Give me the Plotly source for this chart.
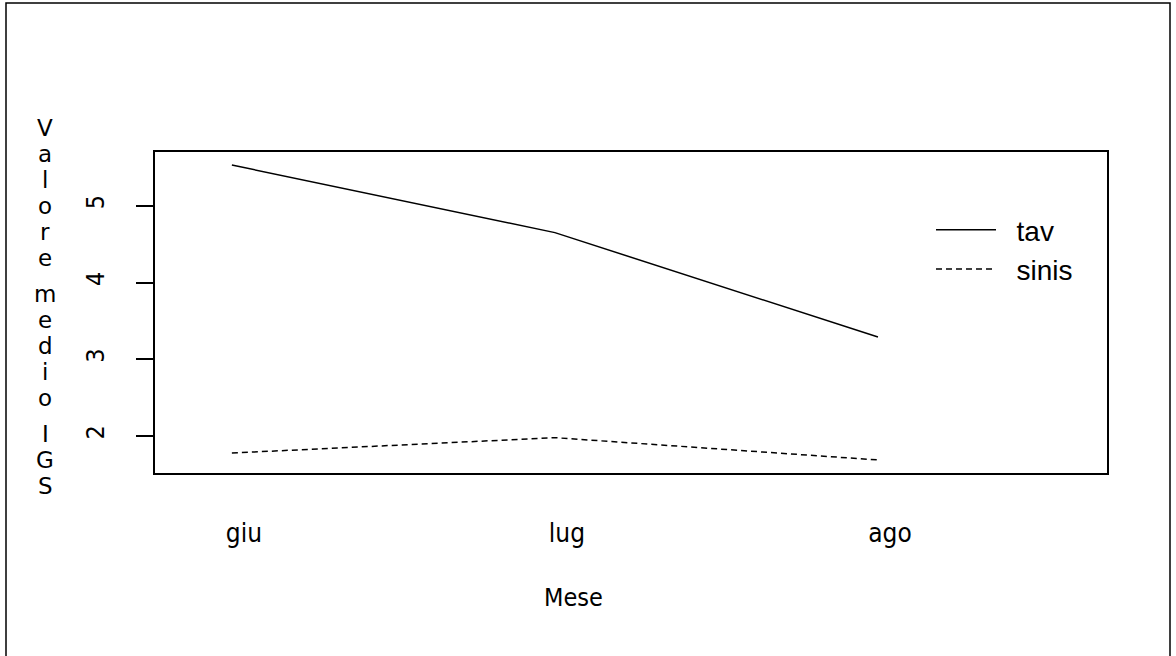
import plotly.graph_objects as go

months = ["giu", "lug", "ago"]
month_pos = [1, 2, 3]
tav = [5.53, 4.65, 3.29]
sinis = [1.78, 1.98, 1.69]
series_names = ["tav", "sinis"]
y_ticks = [2, 3, 4, 5]
y_title = "Valore medio IGS"

W, H = 1176, 656
L, R, T, B = 155, 69, 152, 183
pw, ph = W - L - R, H - T - B

def px_x(p):
    return (p - L) / pw

def px_y(p):
    return (H - B - p) / ph

pad = "\u00a0\u00a0"
fig = go.Figure()
fig.add_trace(go.Scatter(x=month_pos, y=tav, mode="lines", name=pad + series_names[0],
                         line=dict(color="black", width=1.5)))
fig.add_trace(go.Scatter(x=month_pos, y=sinis, mode="lines", name=pad + series_names[1],
                         line=dict(color="black", width=1.5, dash="6px,4px")))

annotations = []
ypos = 128
for ch in y_title:
    if ch == " ":
        ypos += 10
        continue
    annotations.append(dict(text=ch, x=px_x(45), y=px_y(ypos), xref="paper", yref="paper",
                            showarrow=False, xanchor="center", yanchor="middle",
                            font=dict(family="DejaVu Sans", size=23, color="black")))
    ypos += 26

annotations.append(dict(text="Mese", x=px_x(573), y=px_y(597), xref="paper", yref="paper",
                        showarrow=False, xanchor="center", yanchor="middle",
                        font=dict(family="DejaVu Sans Condensed, Liberation Sans Narrow, Liberation Sans", size=25, color="black")))

fig.update_layout(
    width=W, height=H,
    margin=dict(l=L, r=R, t=T, b=B, pad=0),
    paper_bgcolor="white", plot_bgcolor="white",
    showlegend=True,
    legend=dict(x=px_x(931), y=px_y(205), xanchor="left", yanchor="top",
                bgcolor="rgba(0,0,0,0)", borderwidth=0,
                font=dict(family="Liberation Sans, Arial", size=28, color="black"),
                itemwidth=60, tracegroupgap=0),
    annotations=annotations,
    shapes=[dict(type="rect", xref="paper", yref="paper",
                 x0=px_x(6), x1=px_x(1170), y0=px_y(662), y1=px_y(3),
                 line=dict(color="black", width=1.5), fillcolor="rgba(0,0,0,0)", layer="below")],
)

fig.update_xaxes(range=[0.762, 3.709], tickvals=month_pos, ticktext=months,
                 showgrid=False, zeroline=False, showline=True, mirror=True,
                 linecolor="black", linewidth=1.5, ticks="",
                 ticklabelstandoff=36, ticklabelshift=12,
                 tickfont=dict(family="DejaVu Sans Condensed, Liberation Sans Narrow, Liberation Sans", size=26, color="black"))
fig.update_yaxes(range=[1.52, 5.70], tickvals=y_ticks, ticktext=[str(v) for v in y_ticks],
                 showgrid=False, zeroline=False, showline=True, mirror=True,
                 linecolor="black", linewidth=1.5, ticks="outside", ticklen=17,
                 tickcolor="black", tickwidth=1.5, tickangle=-90, ticklabelstandoff=22,
                 tickfont=dict(family="DejaVu Sans Condensed, DejaVu Sans", size=25, color="black"))

fig.write_html("out.html")
